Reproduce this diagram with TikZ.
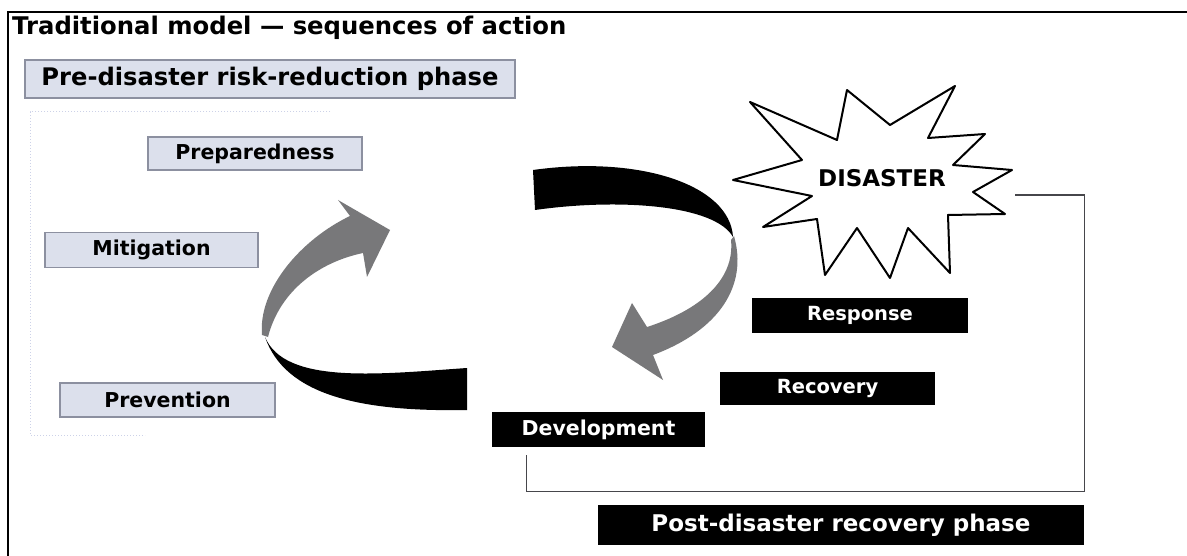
\documentclass[tikz,border=0pt]{standalone}
\usepackage{fontspec}
\setmainfont{DejaVu Sans}
\definecolor{boxfill}{RGB}{220,224,236}
\definecolor{boxdraw}{RGB}{140,144,160}
\definecolor{arrowgrey}{RGB}{120,120,122}
\definecolor{faint}{RGB}{205,210,232}
\definecolor{connc}{RGB}{70,70,75}
\tikzset{
  lightbox/.style={draw=boxdraw, fill=boxfill, line width=1.4pt, inner sep=0pt,
    font=\fontsize{20.5}{20.5}\selectfont\bfseries, text=black},
  darkbox/.style={fill=black, draw=none, inner sep=0pt, text=white,
    font=\fontsize{19.5}{19.5}\selectfont\bfseries},
  conn/.style={draw=connc, line width=1.3pt},
  starline/.style={draw=black, line width=2pt, line join=round, fill=white},
}
\begin{document}
\begin{tikzpicture}[x=1pt, y=-1pt]
\useasboundingbox (0,0) rectangle (1187,556);
\fill[white] (0,0) rectangle (1187,556);
% outer frame (top and left)
\draw[black, line width=2pt] (1187,12) -- (8,12) -- (8,556);
% faint dotted frame of the pre-disaster group
\draw[faint, dotted, line width=1pt] (330,112) -- (30,112) -- (30,435) -- (145,435);

% title
\node[anchor=west, inner sep=0pt, font=\fontsize{24.3}{24.3}\selectfont\bfseries] (title) at (12,28) {Traditional model — sequences of action};

% pre-disaster boxes
\node[lightbox, minimum width=490, minimum height=38, font=\fontsize{24.2}{24.2}\selectfont\bfseries] (pre) at (270,79) {Pre-disaster risk-reduction phase};
\node[lightbox, minimum width=214, minimum height=33] (prep) at (255,153.5) {Preparedness};
\node[lightbox, minimum width=213, minimum height=35] (mit) at (151.5,250) {Mitigation};
\node[lightbox, minimum width=215, minimum height=34] (prev) at (167.5,400) {Prevention};

% left circular arrow
\fill[black] (467,368) .. controls (380,374) and (285,385) .. (265,337)
   .. controls (285,395) and (360,412) .. (467,410) -- cycle;
\fill[arrowgrey] (262,335) .. controls (258,290) and (300,240) .. (350,216)
   -- (338,200) -- (390,230) -- (367,277) -- (363,253)
   .. controls (320,262) and (280,290) .. (268,337) -- cycle;

% right circular arrow
\fill[black] (533,170) .. controls (640,155) and (730,185) .. (733,237)
   .. controls (715,205) and (620,198) .. (535,210) -- cycle;
\fill[arrowgrey] (734,236) .. controls (748,285) and (720,330) .. (653,355)
   -- (663,380) -- (612,347) -- (632,303) -- (647,327)
   .. controls (700,310) and (735,280) .. (731,240) -- cycle;

% disaster star
\path[starline] (733,180) -- (812,196) -- (763,227) -- (817,219) -- (825,275)
  -- (857,228) -- (890,278) -- (908,228) -- (950,273) -- (948,215)
  -- (1005,214) -- (973,192) -- (1012,170) -- (953,165) -- (985,134)
  -- (928,138) -- (955,86) -- (890,125) -- (847,90) -- (837,140)
  -- (750,102) -- (802,160) -- cycle;
\node[inner sep=0pt, font=\fontsize{23}{23}\selectfont\bfseries] (dis) at (882,178) {DISASTER};
\coordinate (dout) at (1015,195);

% post-disaster boxes
\node[darkbox, minimum width=216, minimum height=35] (resp) at (860,315.5) {Response};
\node[darkbox, minimum width=215, minimum height=33] (rec) at (827.5,388.5) {Recovery};
\node[darkbox, minimum width=213, minimum height=35, font=\fontsize{20.5}{20.5}\selectfont\bfseries] (dev) at (598.5,429.5) {Development};
\node[darkbox, minimum width=486, minimum height=40, font=\fontsize{23}{23}\selectfont\bfseries] (post) at (841,525) {Post-disaster recovery phase};

% connector
\coordinate (dend) at ([xshift=35pt, yshift=-8pt]dev.south west);
\draw[conn] (dout) -| ([yshift=13pt]post.north east) -| (dend);
\end{tikzpicture}
\end{document}
